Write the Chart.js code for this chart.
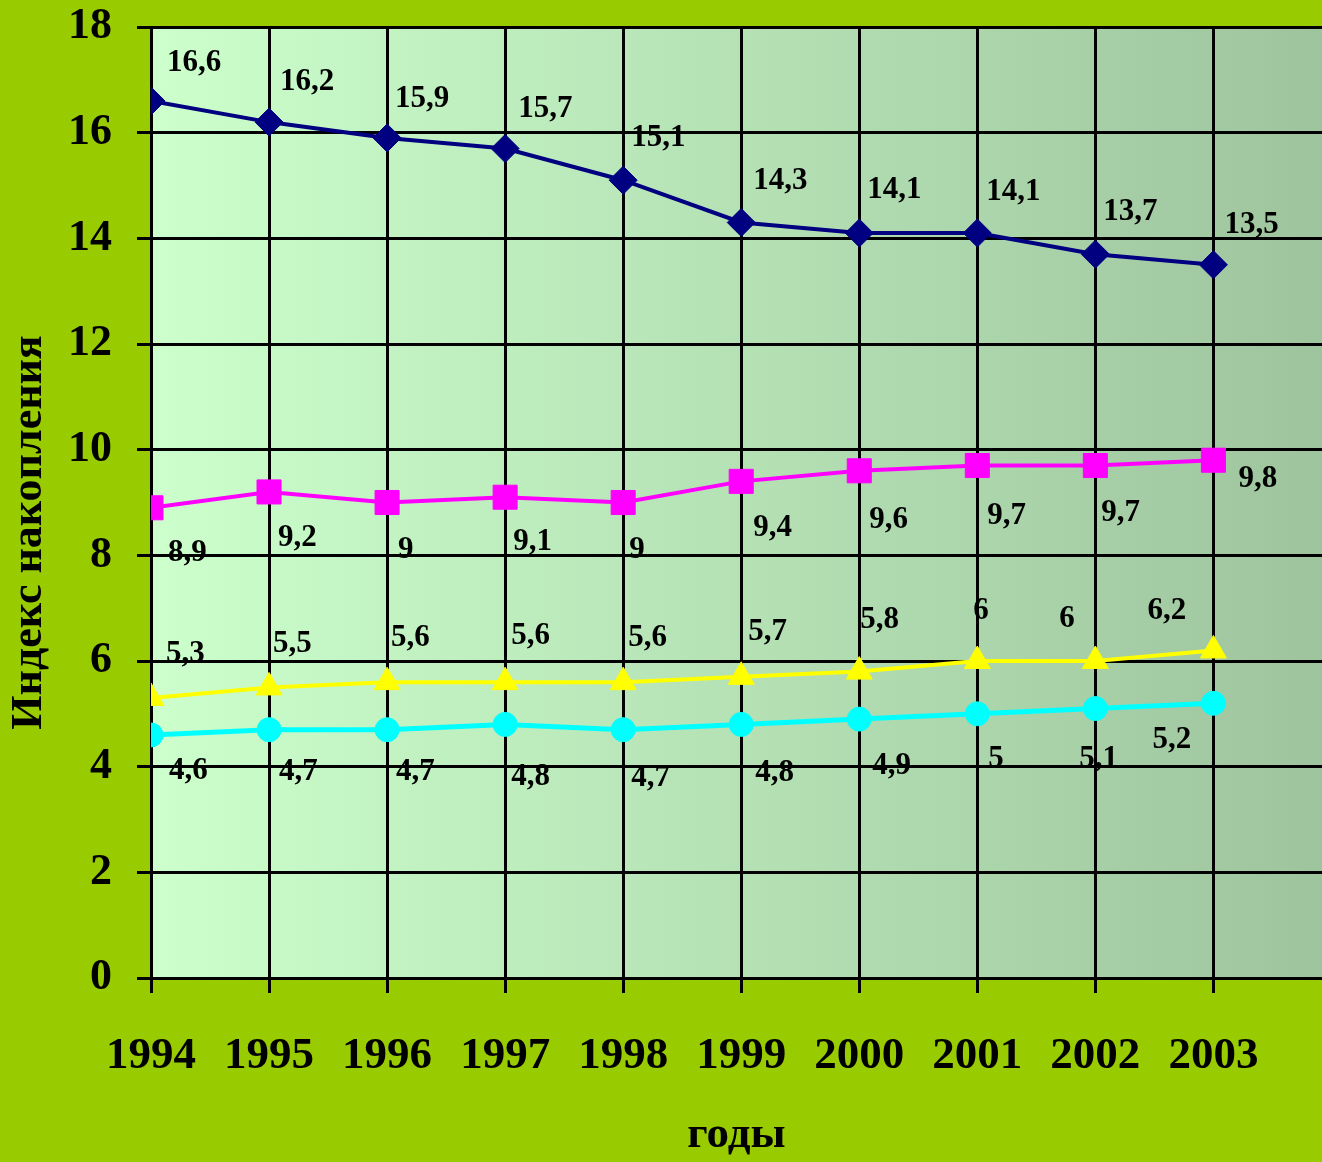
<!DOCTYPE html>
<html>
<head>
<meta charset="utf-8">
<script src="https://cdn.jsdelivr.net/npm/chart.js@4"></script>
<style>
  html, body { margin: 0; padding: 0; background: #99cc00; }
  #wrap { width: 1322px; height: 1162px; }
</style>
</head>
<body>
<div id="wrap"><canvas id="chart" width="1322" height="1162"></canvas></div>
<script>
const years = [1994, 1995, 1996, 1997, 1998, 1999, 2000, 2001, 2002, 2003];
const yTicks = [0, 2, 4, 6, 8, 10, 12, 14, 16, 18];

const navySeries = [16.6, 16.2, 15.9, 15.7, 15.1, 14.3, 14.1, 14.1, 13.7, 13.5];
const pinkSeries = [8.9, 9.2, 9.0, 9.1, 9.0, 9.4, 9.6, 9.7, 9.7, 9.8];
const yellowSeries = [5.3, 5.5, 5.6, 5.6, 5.6, 5.7, 5.8, 6.0, 6.0, 6.2];
const cyanSeries = [4.6, 4.7, 4.7, 4.8, 4.7, 4.8, 4.9, 5.0, 5.1, 5.2];

const xTitle = 'годы';
const yTitle = 'Индекс накопления';

// where each value label sits relative to its point (left edge, vertical middle)
const labelShift = {
  navy:   { dx: [16, 11, 8, 13, 8, 12, 8, 9, 8, 11], dy: [-38, -40, -39, -40, -42, -41, -43, -41, -42, -40] },
  pink:   { dx: [17, 9, 11, 8, 6, 12, 10, 10, 6, 25], dy: [45, 46, 47, 45, 47, 47, 49, 50, 47, 19] },
  yellow: { dx: [15, 4, 4, 6, 5, 7, 1, -4, -36, -66], dy: [-44, -43, -44, -46, -44, -45, -52, -50, -42, -39] },
  cyan:   { dx: [18, 10, 9, 6, 8, 14, 13, 11, -16, -61], dy: [36, 42, 42, 53, 48, 49, 47, 45, 50, 37] }
};

const serif = '"Liberation Serif", "Times New Roman", serif';

const toPoints = (vals) => vals.map((v, i) => ({ x: years[i], y: v }));
const fmt = (v) => String(v).replace('.', ',');

const backdrop = {
  id: 'backdrop',
  beforeDraw(chart) {
    const { ctx, chartArea: a } = chart;
    ctx.save();
    ctx.fillStyle = '#99cc00';
    ctx.fillRect(0, 0, chart.width, chart.height);
    const g = ctx.createLinearGradient(a.left, 0, a.right, 0);
    g.addColorStop(0, '#ccffcc');
    g.addColorStop(1, '#9ec49e');
    ctx.fillStyle = g;
    ctx.fillRect(a.left, a.top, a.right - a.left, a.bottom - a.top);
    ctx.restore();
  }
};

const valueLabels = {
  id: 'valueLabels',
  afterDatasetsDraw(chart) {
    const { ctx } = chart;
    ctx.save();
    ctx.font = 'bold 31px ' + serif;
    ctx.fillStyle = '#000';
    ctx.textAlign = 'left';
    ctx.textBaseline = 'middle';
    chart.data.datasets.forEach((ds, di) => {
      const shift = labelShift[ds.key];
      chart.getDatasetMeta(di).data.forEach((pt, i) => {
        ctx.fillText(fmt(ds.data[i].y), pt.x + shift.dx[i], pt.y + shift.dy[i]);
      });
    });
    ctx.restore();
  }
};

const sideTitle = {
  id: 'sideTitle',
  afterDraw(chart) {
    const { ctx, chartArea: a } = chart;
    ctx.save();
    ctx.translate(30, (a.top + a.bottom) / 2 + 30);
    ctx.rotate(-Math.PI / 2);
    ctx.font = 'bold 44px ' + serif;
    ctx.fillStyle = '#000';
    ctx.textAlign = 'center';
    ctx.textBaseline = 'middle';
    ctx.fillText(yTitle, 0, 0);
    ctx.restore();
  }
};

new Chart(document.getElementById('chart'), {
  type: 'line',
  data: {
    datasets: [
      {
        key: 'navy', data: toPoints(navySeries),
        borderColor: '#000080', backgroundColor: '#000080', borderWidth: 4,
        pointStyle: 'rectRot', pointRadius: 14, pointBorderWidth: 1
      },
      {
        key: 'pink', data: toPoints(pinkSeries),
        borderColor: '#ff00ff', backgroundColor: '#ff00ff', borderWidth: 4,
        pointStyle: 'rect', pointRadius: 17, pointBorderWidth: 1
      },
      {
        key: 'yellow', data: toPoints(yellowSeries),
        borderColor: '#ffff00', backgroundColor: '#ffff00', borderWidth: 4,
        pointStyle: 'triangle', pointRadius: 15, pointBorderWidth: 1
      },
      {
        key: 'cyan', data: toPoints(cyanSeries),
        borderColor: '#00ffff', backgroundColor: '#00ffff', borderWidth: 5,
        pointStyle: 'circle', pointRadius: 12, pointBorderWidth: 1
      }
    ]
  },
  options: {
    responsive: false,
    animation: false,
    layout: { autoPadding: false, padding: 0 },
    plugins: { legend: { display: false }, tooltip: { enabled: false } },
    scales: {
      x: {
        type: 'linear',
        min: 1994,
        max: 2003.92,
        afterBuildTicks: (scale) => { scale.ticks = years.map(v => ({ value: v })); },
        afterFit: (scale) => { scale.height = 184; },
        grid: { color: '#000', lineWidth: 3, tickLength: 15, drawTicks: true },
        border: { display: true, color: '#000', width: 3 },
        ticks: {
          callback: (v) => String(v),
          color: '#000',
          padding: 36,
          maxRotation: 0,
          autoSkip: false,
          font: { family: serif, size: 45, weight: 'bold' }
        },
        title: {
          display: true,
          text: xTitle,
          color: '#000',
          padding: { top: 0, bottom: 0 },
          font: { family: serif, size: 45, weight: 'bold' }
        }
      },
      y: {
        min: 0,
        max: 18,
        afterBuildTicks: (scale) => { scale.ticks = yTicks.map(v => ({ value: v })); },
        afterFit: (scale) => {
          scale.width = 151;
          scale.paddingTop = 27;
          scale.paddingBottom = 0;
        },
        grid: { color: '#000', lineWidth: 3, tickLength: 14, drawTicks: true },
        border: { display: true, color: '#000', width: 3 },
        ticks: {
          color: '#000',
          padding: 25,
          font: { family: serif, size: 44, weight: 'bold' }
        }
      }
    }
  },
  plugins: [backdrop, valueLabels, sideTitle]
});
</script>
</body>
</html>
